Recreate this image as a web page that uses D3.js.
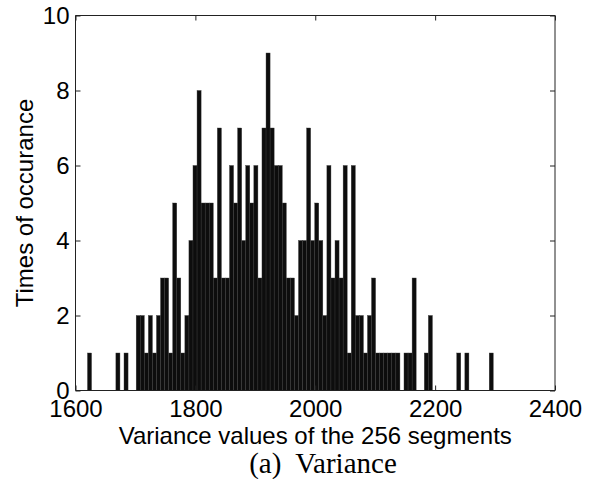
<!DOCTYPE html>
<html>
<head>
<meta charset="utf-8">
<script src="https://cdn.jsdelivr.net/npm/d3@7/dist/d3.min.js"></script>
<style>
  html, body { margin: 0; padding: 0; background: #fff; }
  svg { display: block; }
</style>
</head>
<body>
<div id="chart"></div>
<script>
// Histogram: 100 bins, counts (sum = 256)
const binStart = 1620;
const binWidth = 6.77;
const counts = [
  1,0,0,0,0,0,0,1,0,1,
  0,0,2,2,1,2,1,2,3,3,
  1,5,3,1,2,4,6,8,5,5,
  5,3,7,3,3,6,5,7,4,6,
  5,6,3,7,9,7,6,6,5,3,
  3,2,4,4,7,4,5,4,2,6,
  3,4,3,6,1,6,2,2,1,2,
  3,1,1,1,1,1,1,0,1,1,
  3,0,0,1,2,0,0,0,0,0,
  0,1,0,1,0,0,0,0,0,1
];
const xTicks = [1600, 1800, 2000, 2200, 2400];
const yTicks = [0, 2, 4, 6, 8, 10];
const xLabel = "Variance values of the 256 segments";
const yLabel = "Times of occurance";
const caption = "(a)  Variance";

const W = 597, H = 479;
const m = { left: 75.5, top: 15.5, width: 479.5, height: 375 };

const svg = d3.select("#chart").append("svg")
  .attr("width", W).attr("height", H);

const x = d3.scaleLinear().domain([1600, 2400]).range([m.left, m.left + m.width]);
const y = d3.scaleLinear().domain([0, 10]).range([m.top + m.height, m.top]);

const bins = counts.map((c, i) => ({ x0: binStart + i * binWidth, x1: binStart + (i + 1) * binWidth, c }));

svg.append("g").selectAll("rect")
  .data(bins.filter(d => d.c > 0))
  .join("rect")
  .attr("x", d => x(d.x0))
  .attr("width", d => x(d.x1) - x(d.x0))
  .attr("y", d => y(d.c))
  .attr("height", d => y(0) - y(d.c))
  .attr("fill", "#0d0d0d")
  .attr("stroke", "#3a3a3a")
  .attr("stroke-width", 0.4);

const font = "'Liberation Sans', Arial, Helvetica, sans-serif";
const tickLen = 5;

const xAxisB = d3.axisBottom(x).tickValues(xTicks).tickSize(-tickLen).tickPadding(9).tickFormat(d3.format("d"));
const gxb = svg.append("g").attr("transform", `translate(0,${m.top + m.height})`).call(xAxisB);
const gxt = svg.append("g").attr("transform", `translate(0,${m.top})`)
  .call(d3.axisTop(x).tickValues(xTicks).tickSize(-tickLen).tickFormat(""));
const gyl = svg.append("g").attr("transform", `translate(${m.left},0)`)
  .call(d3.axisLeft(y).tickValues(yTicks).tickSize(-tickLen).tickPadding(6).tickFormat(d3.format("d")));
const gyr = svg.append("g").attr("transform", `translate(${m.left + m.width},0)`)
  .call(d3.axisRight(y).tickValues(yTicks).tickSize(-tickLen).tickFormat(""));

[gxb, gxt, gyl, gyr].forEach(g => {
  g.select(".domain").attr("stroke", "#222").attr("stroke-width", 1);
  g.selectAll(".tick line").attr("stroke", "#222").attr("stroke-width", 1);
  g.selectAll(".tick text").attr("fill", "#000").style("font-family", font).style("font-size", "24px");
});
gxb.select(".domain").attr("d", `M${m.left},0H${m.left + m.width}`);
gxt.select(".domain").attr("d", `M${m.left},0H${m.left + m.width}`);
gyl.select(".domain").attr("d", `M0,${m.top}V${m.top + m.height}`);
gyr.select(".domain").attr("d", `M0,${m.top}V${m.top + m.height}`);

svg.append("text")
  .attr("x", m.left + m.width / 2).attr("y", 444)
  .attr("text-anchor", "middle")
  .style("font-family", font).style("font-size", "24px")
  .text(xLabel);

svg.append("text")
  .attr("transform", `translate(33,${m.top + m.height / 2}) rotate(-90)`)
  .attr("text-anchor", "middle")
  .style("font-family", font).style("font-size", "24px")
  .text(yLabel);

svg.append("text")
  .attr("x", 323).attr("y", 473)
  .attr("text-anchor", "middle")
  .style("font-family", "'Liberation Serif', 'Times New Roman', serif").style("font-size", "29px")
  .attr("xml:space", "preserve")
  .text(caption);
</script>
</body>
</html>
